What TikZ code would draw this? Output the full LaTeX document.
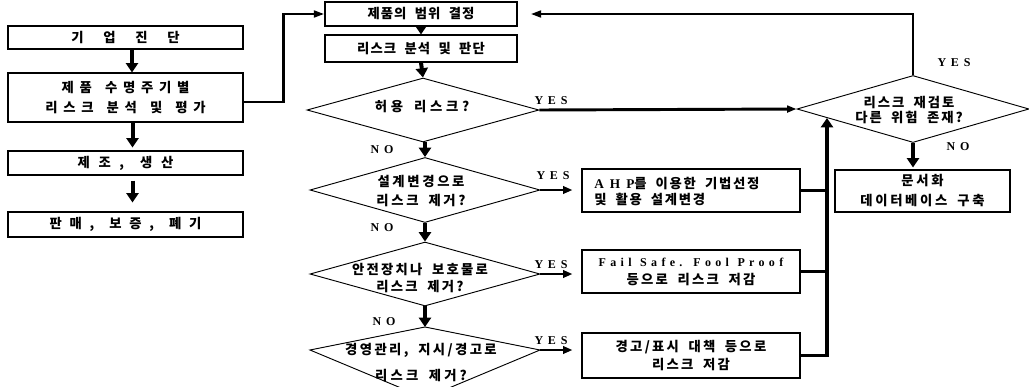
\documentclass[tikz,border=0pt]{standalone}
\usepackage{fontspec}
\setmainfont{Liberation Serif}
\newfontfamily\kr{Noto Sans CJK KR}
\newfontfamily\lat{Liberation Serif}
\usetikzlibrary{arrows.meta,shapes.geometric,calc}
\newcommand\pxu{0.75pt}
% Korean text with letter spacing (percent of font size) and wide word gaps
\newcommand\kls[2]{{\kr\bfseries\addfontfeatures{LetterSpace=#1}%
  \spaceskip=\dimexpr 0.55em+0.01em*#1\relax #2}}
% Latin text with letter spacing and wide word gaps
\newcommand\lls[2]{{\lat\bfseries\addfontfeatures{LetterSpace=#1}%
  \spaceskip=\dimexpr 0.35em+0.01em*#1\relax #2}}

\begin{document}
\begin{tikzpicture}[x=0.75pt,y=-0.75pt,
  box/.style={draw,line width=0.8pt,rectangle,inner sep=0pt,align=center,
    font=\fontsize{10}{12}\selectfont},
  dia/.style={draw,line width=0.7pt,diamond,inner sep=0pt},
  txt/.style={inner sep=0pt,align=center,font=\fontsize{10}{12}\selectfont},
  tag/.style={inner sep=0pt,font=\lat\bfseries\fontsize{9}{10}\selectfont\addfontfeatures{LetterSpace=40}},
  heavy/.style={line width=2.2pt},
  fatarrow/.style={line width=3pt,-{Triangle[width=9pt,length=7pt]}},
  yesarrow/.style={line width=2.2pt,-{Triangle[width=5.5pt,length=7pt]}},
  looptip/.style={-{Triangle[width=5pt,length=8pt]}}
]
\useasboundingbox (0,0) rectangle (1029,386);

% ---- left column: product life cycle ----
\node[box,minimum width=235*\pxu,minimum height=23*\pxu] (b1) at (125.5,37.5) {\kls{148}{기업진단}};
\node[box,minimum width=235*\pxu,minimum height=49*\pxu] (b2) at (125.5,97.5)
  {\kls{43}{제품 수명주기별}\\[3pt]\kls{43}{리스크 분석 및 평가}};
\node[box,minimum width=235*\pxu,minimum height=24*\pxu] (b3) at (125.5,163) {\kls{65}{제조, 생산}};
\node[box,minimum width=235*\pxu,minimum height=25*\pxu] (b4) at (125.5,224.5) {\kls{58}{판매, 보증, 폐기}};

\draw[fatarrow] ($(b1.south)+(6.5,0)$) -- ($(b2.north)+(6.5,0)$);
\draw[fatarrow,shorten >=2.25pt] ($(b2.south)+(7,0)$) -- ($(b3.north)+(7,0)$);
\draw[fatarrow,shorten <=3.75pt,shorten >=6.75pt] ($(b3.south)+(7,0)$) -- ($(b4.north)+(7,0)$);

% ---- middle column: risk assessment ----
\node[box,minimum width=192*\pxu,minimum height=24*\pxu] (t1) at (421,14) {\kls{8}{제품의 범위 결정}};
\node[box,minimum width=192*\pxu,minimum height=27*\pxu] (t2) at (421,48.5) {\kls{8}{리스크 분석 및 판단}};

\node[dia,minimum width=232*\pxu,minimum height=64*\pxu] (d1) at (423,110) {};
\node[txt] (d1t) at (422,107) {\kls{28}{허용 리스크?}};

\node[dia,minimum width=230*\pxu,minimum height=65*\pxu] (d2) at (425,190) {};
\node[txt] (d2t) at (421,191.5) {\kls{20}{설계변경으로}\\[2.25pt]\kls{20}{리스크 제거?}};

\node[dia,minimum width=230*\pxu,minimum height=64*\pxu] (d3) at (425,274) {};
\node[txt] (d3t) at (420,278.5) {\kls{17}{안전장치나 보호물로}\\[0.75pt]\kls{17}{리스크 제거?}};

% last decision: lower half drawn deeper than the upper half
\coordinate (d4n) at (425,327);
\coordinate (d4e) at (540,350);
\coordinate (d4s) at (425,398);
\coordinate (d4w) at (310,350);
\draw[line width=0.7pt] (d4n) -- (d4e) -- (d4s) -- (d4w) -- cycle;
\node[txt] (d4t) at (421,363) {\kls{18}{경영관리, 지시/경고로}\\[7.5pt]\kls{24}{리스크 제거?}};

\draw[fatarrow] (t1.south) -- (t2.north);
\draw[fatarrow] (t2.south) -- (d1.north);
\draw[fatarrow] (d2.north |- d1.south) -- (d2.north);
\draw[fatarrow] (d2.south) -- (d3.north);
\draw[fatarrow] (d3.south) -- (d4n);

\node[tag] (no1) at (382,150) {NO};
\node[tag] (no2) at (382,228) {NO};
\node[tag] (no3) at (384,322) {NO};

% ---- countermeasure boxes ----
\node[box,minimum width=218*\pxu,minimum height=43*\pxu] (r1) at (691,190.5) {};
\node[txt,anchor=west,align=left] (r1t) at (594,192)
  {\lls{45}{AHP}\kls{13}{를 이용한 기법선정}\\\kls{13}{및 활용 설계변경}};
\node[box,minimum width=218*\pxu,minimum height=43*\pxu] (r2) at (691,271.5)
  {{\fontsize{9}{11}\selectfont\lls{36}{Fail Safe. Fool Proof}}\\[1.5pt]\kls{17}{등으로 리스크 저감}};
\node[box,minimum width=218*\pxu,minimum height=45*\pxu] (r3) at (691,355.5)
  {\kls{17}{경고/표시 대책 등으로}\\[1.5pt]\kls{17}{리스크 저감}};

\draw[yesarrow,shorten >=6.75pt] (d2.east) -- (d2.east -| r1.west);
\draw[yesarrow,shorten >=6.75pt] (d3.east) -- (d3.east -| r2.west);
\draw[yesarrow,shorten >=6.75pt] (d4e) -- (d4e -| r3.west);

\node[tag] (yes2) at (553,176) {YES};
\node[tag] (yes3) at (551,265) {YES};
\node[tag] (yes4) at (551,341) {YES};

% ---- review decision ----
\node[dia,minimum width=232*\pxu,minimum height=67*\pxu] (d5) at (913,109) {};
\node[txt] (d5t) at (909,110.5) {\kls{15}{리스크 재검토}\\[-0.75pt]\kls{15}{다른 위험 존재?}};

\node[box,minimum width=175*\pxu,minimum height=42*\pxu] (q) at (922.5,191)
  {\kls{20}{문서화}\\[3pt]\kls{20}{데이터베이스 구축}};

\draw[yesarrow,-{Triangle[width=5pt,length=7pt]}] (d1.east) -- (d5.west);
\node[tag] (yes1) at (551,101) {YES};

% collecting line from the countermeasures back to the review
\coordinate (vb) at (827,357);
\coordinate (vt) at (827,118);
\draw[heavy] (r1.east) -- (r1.east -| vb);
\draw[heavy] (r2.east) -- (r2.east -| vb);
\draw[heavy] (r3.east) -- (r3.east -| vb);
\draw[fatarrow] (vb) -- (vt);

\draw[fatarrow,shorten >=1.5pt] (d5.south) -- (d5.south |- q.north);
\node[tag] (no5) at (958,147) {NO};

% loops back to the scope definition
\draw[heavy,looptip,shorten >=9.75pt] (d5.north) -- (d5.north |- t1.east) -- (t1.east);
\node[tag] (yes5) at (954,63) {YES};
\draw[heavy,looptip] ($(b2.east)+(0,4.5)$) -- ++(40,0) |- (t1.west);
\end{tikzpicture}
\end{document}
